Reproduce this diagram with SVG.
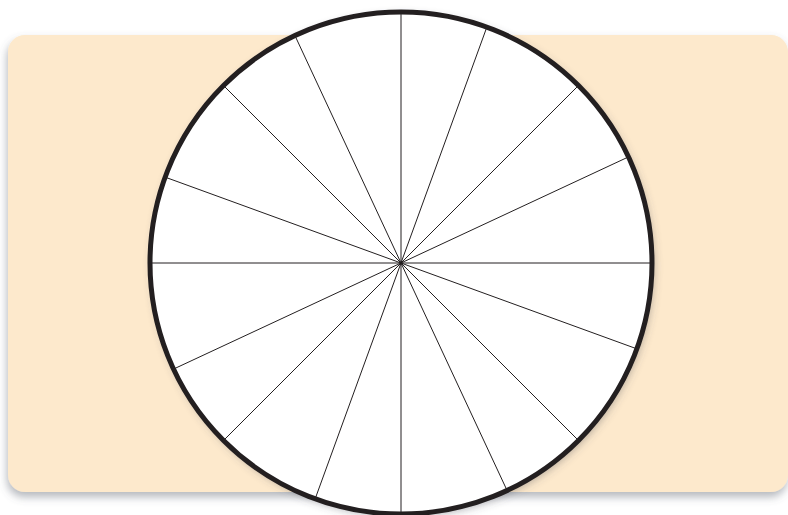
<svg xmlns="http://www.w3.org/2000/svg" width="788" height="515" viewBox="0 0 788 515">
  <defs>
    <filter id="panelShadow" x="-5%" y="-10%" width="110%" height="125%">
      <feDropShadow dx="-1" dy="5" stdDeviation="4" flood-color="#5a6070" flood-opacity="0.45"/>
    </filter>
    <filter id="wheelShadow" x="-10%" y="-10%" width="120%" height="120%">
      <feDropShadow dx="2" dy="3" stdDeviation="4" flood-color="#4a4a55" flood-opacity="0.4"/>
    </filter>
  </defs>
  <style>
    .panel { fill: #fde9cc; }
    .wheel { fill: #ffffff; stroke: #231f20; stroke-width: 5; }
    .spoke { stroke: #231f20; stroke-width: 1; fill: none; }
  </style>
  <rect width="788" height="515" fill="#ffffff"/>
  <g id="panel">
    <rect class="panel" x="8" y="35" width="780" height="457" rx="17" filter="url(#panelShadow)"/>
  </g>
  <g id="wheel">
    <circle cx="401" cy="263" r="251" fill="#ffffff" filter="url(#wheelShadow)"/>
    <g id="spokes">
      <line class="spoke" x1="150" y1="263" x2="652" y2="263"/>
      <line class="spoke" x1="401" y1="12" x2="401" y2="514"/>
      <line class="spoke" x1="578.48" y1="85.52" x2="223.52" y2="440.48"/>
      <line class="spoke" x1="578.48" y1="440.48" x2="223.52" y2="85.52"/>
      <line class="spoke" x1="486.85" y1="27.14" x2="315.15" y2="498.86"/>
      <line class="spoke" x1="628.48" y1="156.92" x2="173.52" y2="369.08"/>
      <line class="spoke" x1="636.86" y1="348.85" x2="165.14" y2="177.15"/>
      <line class="spoke" x1="507.08" y1="490.48" x2="294.92" y2="35.52"/>
    </g>
    <circle class="wheel" cx="401" cy="263" r="251" fill="none" style="fill:none"/>
  </g>
</svg>
